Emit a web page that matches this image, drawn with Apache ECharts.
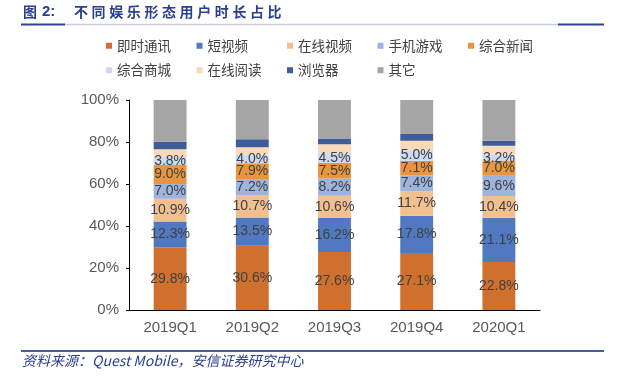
<!DOCTYPE html>
<html>
<head>
<meta charset="utf-8">
<script src="https://cdn.jsdelivr.net/npm/echarts@6.0.0/dist/echarts.min.js"></script>
<style>
  html, body { margin: 0; padding: 0; background: #fff; }
  #chart { width: 640px; height: 377px; }
</style>
</head>
<body>
<div id="chart"></div>
<script>
const categories = ['2019Q1', '2019Q2', '2019Q3', '2019Q4', '2020Q1'];
const yTicks = [0, 20, 40, 60, 80, 100];

const imValues = [29.8, 30.6, 27.6, 27.1, 22.8];
const shortVideoValues = [12.3, 13.5, 16.2, 17.8, 21.1];
const onlineVideoValues = [10.9, 10.7, 10.6, 11.7, 10.4];
const mobileGameValues = [7.0, 7.2, 8.2, 7.4, 9.6];
const newsValues = [9.0, 7.9, 7.5, 7.1, 7.0];
const shoppingValues = [3.8, 4.0, 4.5, 5.0, 3.2];
const readingValues = [3.7, 3.6, 4.3, 4.5, 4.1];
const browserValues = [3.6, 3.8, 2.8, 3.2, 2.4];
const otherValues = [19.9, 18.7, 18.3, 16.2, 19.4];

const seriesDefs = [
  { name: '即时通讯', data: imValues, color: '#D0702F', label: true },
  { name: '短视频', data: shortVideoValues, color: '#5079C2', label: true },
  { name: '在线视频', data: onlineVideoValues, color: '#F2C08E', label: true },
  { name: '手机游戏', data: mobileGameValues, color: '#9DB4DD', label: true },
  { name: '综合新闻', data: newsValues, color: '#E8953F', label: true },
  { name: '综合商城', data: shoppingValues, color: '#CCDAF1', label: true },
  { name: '在线阅读', data: readingValues, color: '#F8DABB', label: false },
  { name: '浏览器', data: browserValues, color: '#3E5B9A', label: false },
  { name: '其它', data: otherValues, color: '#A5A5A5', label: false }
];

const titleColor = '#2A3F8E';
const chart = echarts.init(document.getElementById('chart'));

// legend: 5 columns, 2 rows
const legends = seriesDefs.map((s, i) => ({
  data: [s.name],
  left: 106 + (i % 5) * 90.5,
  top: 39 + Math.floor(i / 5) * 24.5,
  padding: 0,
  itemWidth: 6,
  itemHeight: 6,
  icon: 'rect',
  textStyle: { fontSize: 13.5, color: '#404040', fontFamily: 'Noto Sans CJK SC' }
}));

// title characters, spaced out
const titleChars = '不同娱乐形态用户时长占比'.split('');
const titleGraphics = [
  { type: 'text', left: 23, top: 5, style: { text: '图', font: 'bold 14px "Noto Sans CJK SC"', fill: titleColor } },
  { type: 'text', left: 42, top: 4, style: { text: '2:', font: 'bold 15px "Liberation Sans"', fill: titleColor } }
].concat(titleChars.map((c, i) => ({
  type: 'text',
  left: 74 + i * 17.6,
  top: 5,
  style: { text: c, font: 'bold 14px "Noto Sans CJK SC"', fill: titleColor }
})));

chart.setOption({
  animation: false,
  legend: legends,
  grid: { left: 129, right: 100, top: 100, bottom: 67 },
  xAxis: {
    type: 'category',
    data: categories,
    axisLine: { lineStyle: { color: '#000', width: 1 } },
    axisTick: { inside: true, length: 4, lineStyle: { color: '#000' } },
    axisLabel: { fontSize: 15, color: '#595959', margin: 10, fontFamily: 'Liberation Sans' }
  },
  yAxis: {
    type: 'value',
    min: yTicks[0],
    max: yTicks[yTicks.length - 1],
    interval: 20,
    splitLine: { show: false },
    axisLine: { show: true, lineStyle: { color: '#000', width: 1 } },
    axisTick: { show: true, length: 3, lineStyle: { color: '#000' } },
    axisLabel: { formatter: '{value}%', fontSize: 15, color: '#595959', margin: 10, fontFamily: 'Liberation Sans' }
  },
  series: seriesDefs.map(s => ({
    name: s.name,
    type: 'bar',
    stack: 'total',
    barWidth: '40%',
    data: s.data,
    itemStyle: { color: s.color },
    label: {
      show: s.label,
      position: 'inside',
      formatter: p => p.value.toFixed(1) + '%',
      fontSize: 14,
      color: '#404040',
      fontFamily: 'Liberation Sans'
    }
  })),
  graphic: titleGraphics.concat([
    { type: 'line', shape: { x1: 65, y1: 24.5, x2: 558, y2: 24.5 }, style: { stroke: '#C9CCDD', lineWidth: 1.5 } },
    { type: 'line', shape: { x1: 21, y1: 24.5, x2: 65, y2: 24.5 }, style: { stroke: '#2E4596', lineWidth: 2 } },
    { type: 'line', shape: { x1: 558, y1: 24.5, x2: 604, y2: 24.5 }, style: { stroke: '#2E4596', lineWidth: 2 } },
    { type: 'line', shape: { x1: 21, y1: 351, x2: 604, y2: 351 }, style: { stroke: '#4A5E9E', lineWidth: 2 } },
    {
      type: 'text', left: 22, top: 354,
      style: {
        text: '资料来源：Quest Mobile，安信证券研究中心',
        font: 'italic 14px "Noto Sans CJK SC"',
        fill: titleColor
      }
    }
  ])
});
</script>
</body>
</html>
